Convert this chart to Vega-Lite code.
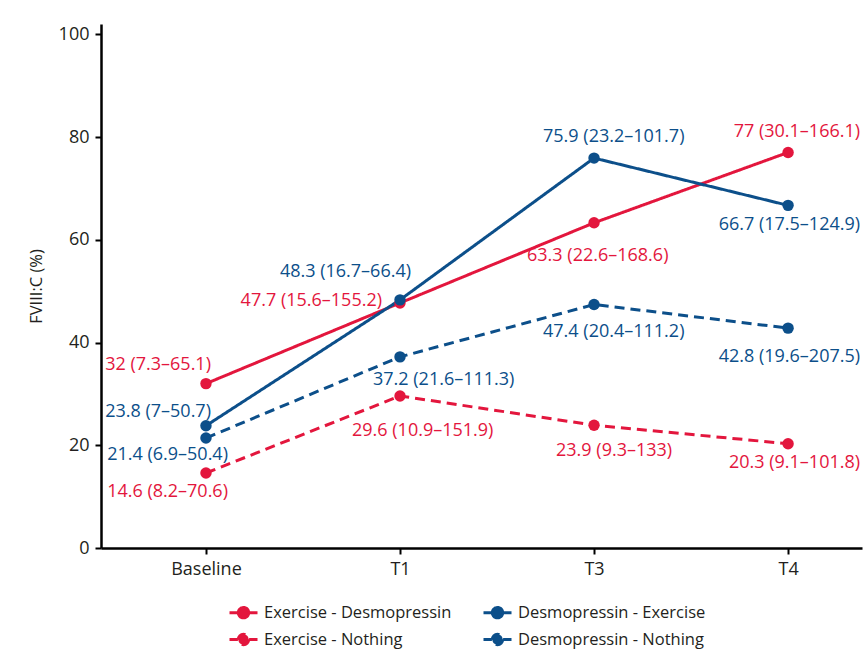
{
  "$schema": "https://vega.github.io/schema/vega-lite/v6.json",
  "width": 761,
  "height": 524,
  "autosize": "none",
  "padding": {"left": 101, "top": 24, "right": 5, "bottom": 111},
  "background": "white",
  "config": {
    "view": {"stroke": null},
    "font": "Open Sans",
    "axis": {"grid": false, "domainColor": "#000000", "domainWidth": 2.5, "tickColor": "#000000", "tickWidth": 2, "tickSize": 6, "labelColor": "#231f20", "labelFont": "Open Sans", "labelFontSize": 18, "labelPadding": 6, "titleFont": "Open Sans", "titleColor": "#231f20"},
    "text": {"fontSize": 18, "font": "Open Sans", "baseline": "middle"}
  },
  "data": {
    "values": [
      {"time": "Baseline", "t": 0, "series": "Exercise - Desmopressin", "value": 32, "label": "32 (7.3–65.1)"},
      {"time": "T1", "t": 1, "series": "Exercise - Desmopressin", "value": 47.7, "label": "47.7 (15.6–155.2)"},
      {"time": "T3", "t": 2, "series": "Exercise - Desmopressin", "value": 63.3, "label": "63.3 (22.6–168.6)"},
      {"time": "T4", "t": 3, "series": "Exercise - Desmopressin", "value": 77, "label": "77 (30.1–166.1)"},
      {"time": "Baseline", "t": 0, "series": "Desmopressin - Exercise", "value": 23.8, "label": "23.8 (7–50.7)"},
      {"time": "T1", "t": 1, "series": "Desmopressin - Exercise", "value": 48.3, "label": "48.3 (16.7–66.4)"},
      {"time": "T3", "t": 2, "series": "Desmopressin - Exercise", "value": 75.9, "label": "75.9 (23.2–101.7)"},
      {"time": "T4", "t": 3, "series": "Desmopressin - Exercise", "value": 66.7, "label": "66.7 (17.5–124.9)"},
      {"time": "Baseline", "t": 0, "series": "Exercise - Nothing", "value": 14.6, "label": "14.6 (8.2–70.6)"},
      {"time": "T1", "t": 1, "series": "Exercise - Nothing", "value": 29.6, "label": "29.6 (10.9–151.9)"},
      {"time": "T3", "t": 2, "series": "Exercise - Nothing", "value": 23.9, "label": "23.9 (9.3–133)"},
      {"time": "T4", "t": 3, "series": "Exercise - Nothing", "value": 20.3, "label": "20.3 (9.1–101.8)"},
      {"time": "Baseline", "t": 0, "series": "Desmopressin - Nothing", "value": 21.4, "label": "21.4 (6.9–50.4)"},
      {"time": "T1", "t": 1, "series": "Desmopressin - Nothing", "value": 37.2, "label": "37.2 (21.6–111.3)"},
      {"time": "T3", "t": 2, "series": "Desmopressin - Nothing", "value": 47.4, "label": "47.4 (20.4–111.2)"},
      {"time": "T4", "t": 3, "series": "Desmopressin - Nothing", "value": 42.8, "label": "42.8 (19.6–207.5)"}
    ]
  },
  "encoding": {
    "x": {
      "field": "t", "type": "quantitative",
      "scale": {"domain": [-0.541, 3.381], "nice": false, "zero": false},
      "axis": {"values": [0, 1, 2, 3], "labelExpr": "['Baseline','T1','T3','T4'][datum.value]", "title": null, "labelPadding": 6}
    },
    "y": {
      "field": "value", "type": "quantitative",
      "scale": {"domain": [0, 102], "nice": false},
      "axis": {"values": [0, 20, 40, 60, 80, 100], "title": "FVIII:C (%)", "titleFontSize": 16.5, "titleFontWeight": "normal", "titlePadding": 14}
    }
  },
  "layer": [
    {
      "mark": {"type": "line", "strokeWidth": 3},
      "encoding": {
        "color": {
          "field": "series", "type": "nominal",
          "scale": {"domain": ["Exercise - Desmopressin", "Exercise - Nothing", "Desmopressin - Exercise", "Desmopressin - Nothing"], "range": ["#e3163d", "#e3163d", "#0c4f8a", "#0c4f8a"]},
          "legend": {
            "title": null, "orient": "none", "legendX": 127, "legendY": 573, "columns": 2, "columnPadding": 25, "rowPadding": 0, "padding": 0, "labelLimit": 400,
            "symbolType": "M-1,0L-0.4,0M1,0L0.4,0M-0.37,0A0.37,0.37,0,1,1,0.37,0A0.37,0.37,0,1,1,-0.37,0Z",
            "symbolSize": 784, "symbolStrokeWidth": 3, "labelFont": "Open Sans", "labelFontSize": 16.5, "labelColor": "#231f20", "labelOffset": 5,
            "encode": {"symbols": {"update": {"fill": {"scale": "color", "field": "value"}, "opacity": {"value": 1}, "strokeDash": {"signal": "indexof(datum.value, 'Nothing') >= 0 ? [5, 30] : [1, 0]"}}}}
          }
        },
        "strokeDash": {
          "field": "series", "type": "nominal",
          "scale": {"domain": ["Exercise - Desmopressin", "Exercise - Nothing", "Desmopressin - Exercise", "Desmopressin - Nothing"], "range": [[1, 0], [10, 6], [1, 0], [10, 6]]},
          "legend": {
            "title": null, "orient": "none", "legendX": 127, "legendY": 573, "columns": 2, "columnPadding": 25, "rowPadding": 0, "padding": 0, "labelLimit": 400,
            "symbolType": "M-1,0L-0.4,0M1,0L0.4,0M-0.37,0A0.37,0.37,0,1,1,0.37,0A0.37,0.37,0,1,1,-0.37,0Z",
            "symbolSize": 784, "symbolStrokeWidth": 3, "labelFont": "Open Sans", "labelFontSize": 16.5, "labelColor": "#231f20", "labelOffset": 5,
            "encode": {"symbols": {"update": {"fill": {"scale": "color", "field": "value"}, "opacity": {"value": 1}, "strokeDash": {"signal": "indexof(datum.value, 'Nothing') >= 0 ? [5, 30] : [1, 0]"}}}}
          }
        }
      }
    },
    {
      "mark": {"type": "point", "shape": "circle", "filled": true, "size": 130, "opacity": 1},
      "encoding": {"color": {"field": "series", "type": "nominal", "legend": null}}
    },
    {"transform": [{"filter": {"field": "label", "equal": "32 (7.3–65.1)"}}], "mark": {"type": "text", "align": "right", "dx": 5, "dy": -19}, "encoding": {"text": {"field": "label"}, "color": {"field": "series", "type": "nominal", "legend": null}}},
    {"transform": [{"filter": {"field": "label", "equal": "23.8 (7–50.7)"}}], "mark": {"type": "text", "align": "right", "dx": 5, "dy": -14}, "encoding": {"text": {"field": "label"}, "color": {"field": "series", "type": "nominal", "legend": null}}},
    {"transform": [{"filter": {"field": "label", "equal": "21.4 (6.9–50.4)"}}], "mark": {"type": "text", "align": "right", "dx": 22, "dy": 17}, "encoding": {"text": {"field": "label"}, "color": {"field": "series", "type": "nominal", "legend": null}}},
    {"transform": [{"filter": {"field": "label", "equal": "14.6 (8.2–70.6)"}}], "mark": {"type": "text", "align": "right", "dx": 22, "dy": 19}, "encoding": {"text": {"field": "label"}, "color": {"field": "series", "type": "nominal", "legend": null}}},
    {"transform": [{"filter": {"field": "label", "equal": "48.3 (16.7–66.4)"}}], "mark": {"type": "text", "align": "right", "dx": 11, "dy": -28}, "encoding": {"text": {"field": "label"}, "color": {"field": "series", "type": "nominal", "legend": null}}},
    {"transform": [{"filter": {"field": "label", "equal": "47.7 (15.6–155.2)"}}], "mark": {"type": "text", "align": "right", "dx": -18, "dy": -2}, "encoding": {"text": {"field": "label"}, "color": {"field": "series", "type": "nominal", "legend": null}}},
    {"transform": [{"filter": {"field": "label", "equal": "37.2 (21.6–111.3)"}}], "mark": {"type": "text", "align": "left", "dx": -27, "dy": 23}, "encoding": {"text": {"field": "label"}, "color": {"field": "series", "type": "nominal", "legend": null}}},
    {"transform": [{"filter": {"field": "label", "equal": "29.6 (10.9–151.9)"}}], "mark": {"type": "text", "align": "left", "dx": -48, "dy": 35}, "encoding": {"text": {"field": "label"}, "color": {"field": "series", "type": "nominal", "legend": null}}},
    {"transform": [{"filter": {"field": "label", "equal": "75.9 (23.2–101.7)"}}], "mark": {"type": "text", "align": "left", "dx": -51, "dy": -21}, "encoding": {"text": {"field": "label"}, "color": {"field": "series", "type": "nominal", "legend": null}}},
    {"transform": [{"filter": {"field": "label", "equal": "63.3 (22.6–168.6)"}}], "mark": {"type": "text", "align": "left", "dx": -67, "dy": 33}, "encoding": {"text": {"field": "label"}, "color": {"field": "series", "type": "nominal", "legend": null}}},
    {"transform": [{"filter": {"field": "label", "equal": "47.4 (20.4–111.2)"}}], "mark": {"type": "text", "align": "left", "dx": -51, "dy": 28}, "encoding": {"text": {"field": "label"}, "color": {"field": "series", "type": "nominal", "legend": null}}},
    {"transform": [{"filter": {"field": "label", "equal": "23.9 (9.3–133)"}}], "mark": {"type": "text", "align": "left", "dx": -38, "dy": 26}, "encoding": {"text": {"field": "label"}, "color": {"field": "series", "type": "nominal", "legend": null}}},
    {"transform": [{"filter": {"field": "label", "equal": "77 (30.1–166.1)"}}], "mark": {"type": "text", "align": "right", "dx": 72, "dy": -20}, "encoding": {"text": {"field": "label"}, "color": {"field": "series", "type": "nominal", "legend": null}}},
    {"transform": [{"filter": {"field": "label", "equal": "66.7 (17.5–124.9)"}}], "mark": {"type": "text", "align": "right", "dx": 72, "dy": 20}, "encoding": {"text": {"field": "label"}, "color": {"field": "series", "type": "nominal", "legend": null}}},
    {"transform": [{"filter": {"field": "label", "equal": "42.8 (19.6–207.5)"}}], "mark": {"type": "text", "align": "right", "dx": 72, "dy": 29}, "encoding": {"text": {"field": "label"}, "color": {"field": "series", "type": "nominal", "legend": null}}},
    {"transform": [{"filter": {"field": "label", "equal": "20.3 (9.1–101.8)"}}], "mark": {"type": "text", "align": "right", "dx": 72, "dy": 19}, "encoding": {"text": {"field": "label"}, "color": {"field": "series", "type": "nominal", "legend": null}}}
  ]
}
